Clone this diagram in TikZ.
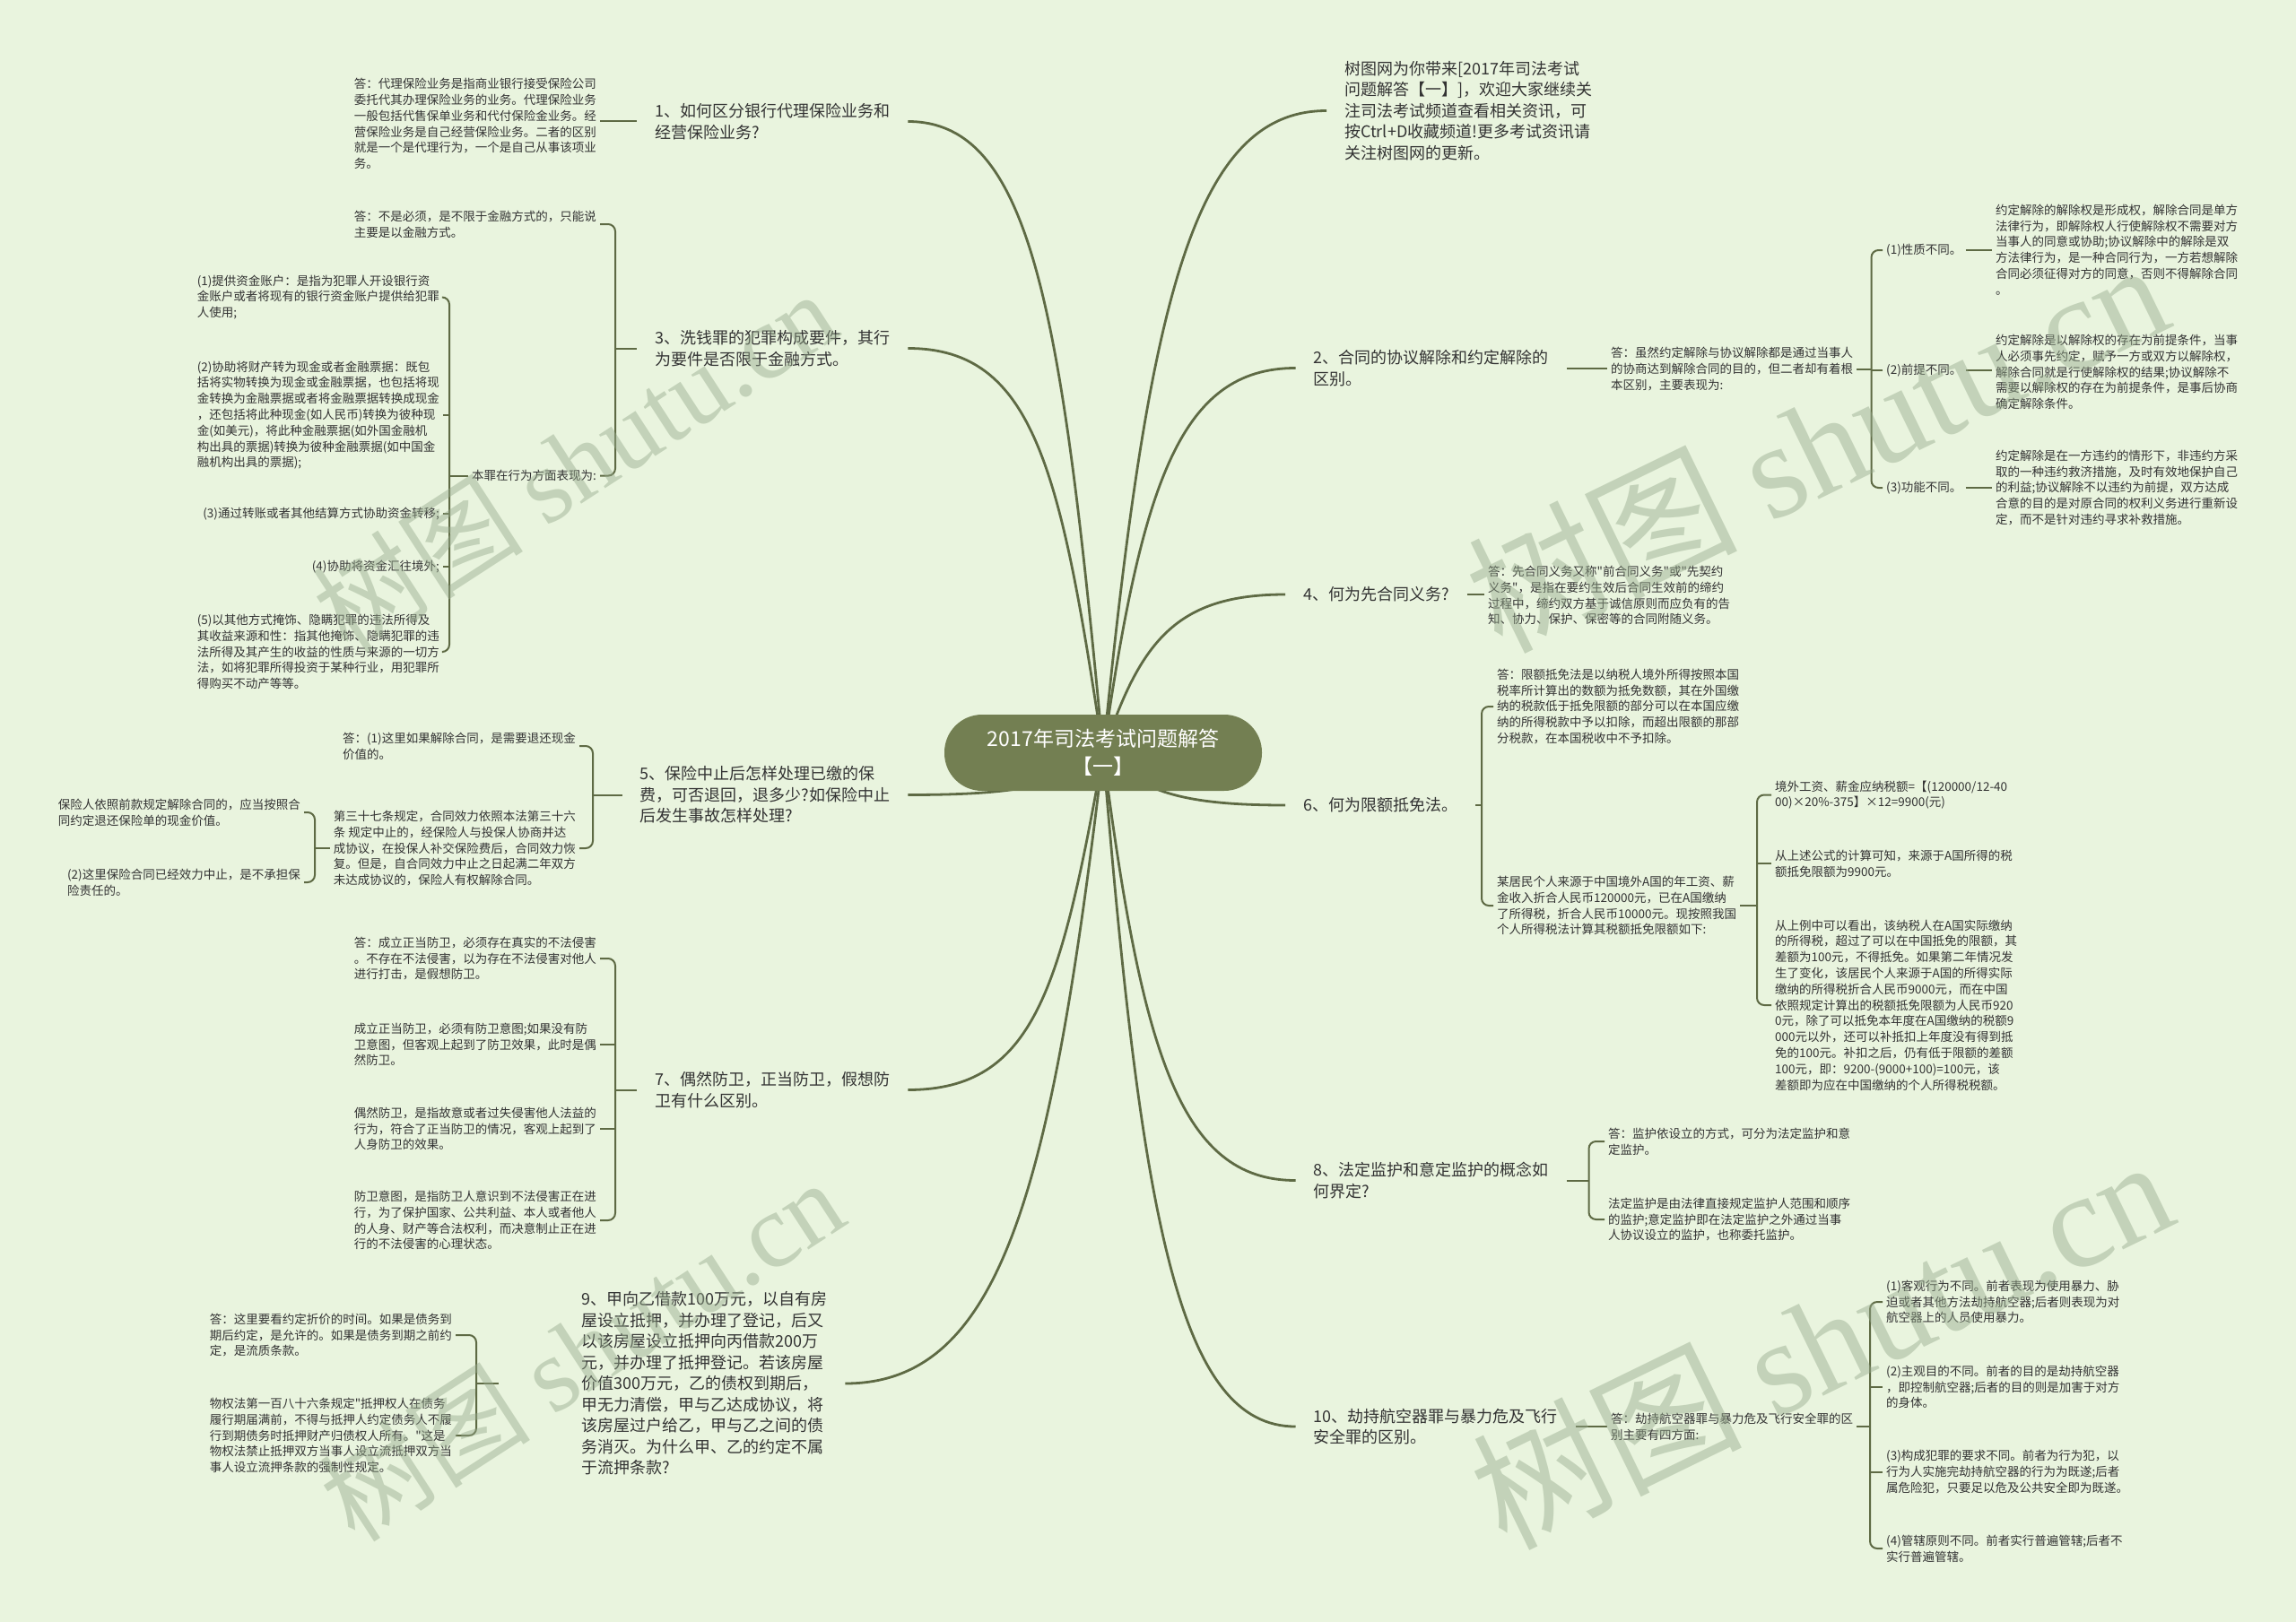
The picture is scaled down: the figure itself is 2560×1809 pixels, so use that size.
\documentclass[tikz,border=0pt]{standalone}
\usepackage{fontspec}
\setmainfont{Noto Sans CJK SC}[Ligatures=TeXOff]
\newfontfamily\wmserif{Liberation Serif}
\definecolor{bgleaf}{RGB}{233,244,222}
\definecolor{olive}{RGB}{94,106,68}
\definecolor{hubfill}{RGB}{115,127,82}
\definecolor{ink}{RGB}{51,51,51}
\definecolor{wmgray}{RGB}{150,170,140}

\begin{document}
\begin{tikzpicture}[
  x=1pt, y=1pt,
  topic/.style={align=left, text=ink, font=\fontsize{18}{23.5}\selectfont, inner xsep=20pt, inner ysep=2pt},
  leaf/.style={align=left, text=ink, font=\fontsize{13.5}{17.8}\selectfont, inner sep=4pt},
  hubbox/.style={fill=hubfill, text=white, rounded corners=42pt, minimum width=354pt, minimum height=85pt, align=center, font=\fontsize{23}{31}\selectfont},
  branch/.style={draw=olive, line width=2.8pt},
  brace/.style={draw=olive, line width=2pt, rounded corners=8pt},
  wmark/.style={text=wmgray, opacity=0.45, rotate=33, font=\fontsize{118}{118}\selectfont},
  wmarkwide/.style={text=wmgray, opacity=0.45, rotate=26, font=\fontsize{150}{150}\selectfont}
]
\path[use as bounding box, fill=bgleaf] (0,0) rectangle (2560,-1809);
\coordinate (hub) at (1230,-839.5);

% left topics
\node[topic, anchor=west] (L1) at (710,-135.5) {1、如何区分银行代理保险业务和\\经营保险业务?};
\node[topic, anchor=west] (L3) at (710,-388.5) {3、洗钱罪的犯罪构成要件，其行\\为要件是否限于金融方式。};
\node[topic, anchor=west] (L5) at (693.5,-886.5) {5、保险中止后怎样处理已缴的保\\费，可否退回，退多少?如保险中止\\后发生事故怎样处理?};
\node[topic, anchor=west] (L7) at (710,-1215.5) {7、偶然防卫，正当防卫，假想防\\卫有什么区别。};
\node[topic, anchor=west] (L9) at (628,-1543) {9、甲向乙借款100万元，以自有房\\屋设立抵押，并办理了登记，后又\\以该房屋设立抵押向丙借款200万\\元，并办理了抵押登记。若该房屋\\价值300万元，乙的债权到期后，\\甲无力清偿，甲与乙达成协议，将\\该房屋过户给乙，甲与乙之间的债\\务消灭。为什么甲、乙的约定不属\\于流押条款?};

% right topics
\node[topic, anchor=west] (T) at (1479,-123.5) {树图网为你带来[2017年司法考试\\问题解答【一】]，欢迎大家继续关\\注司法考试频道查看相关资讯，可\\按Ctrl+D收藏频道!更多考试资讯请\\关注树图网的更新。};
\node[topic, anchor=west] (L2) at (1444.5,-410.5) {2、合同的协议解除和约定解除的\\区别。};
\node[topic, anchor=west] (L4) at (1433,-663) {4、何为先合同义务?};
\node[topic, anchor=west] (L6) at (1433,-898) {6、何为限额抵免法。};
\node[topic, anchor=west] (L8) at (1444.5,-1316.5) {8、法定监护和意定监护的概念如\\何界定?};
\node[topic, anchor=west] (L10) at (1444.5,-1591) {10、劫持航空器罪与暴力危及飞行\\安全罪的区别。};

% left leaves
\node[leaf, anchor=east] (C1) at (669,-138) {答：代理保险业务是指商业银行接受保险公司\\委托代其办理保险业务的业务。代理保险业务\\一般包括代售保单业务和代付保险金业务。经\\营保险业务是自己经营保险业务。二者的区别\\就是一个是代理行为，一个是自己从事该项业\\务。};
\node[leaf, anchor=east] (C3a) at (669,-250) {答：不是必须，是不限于金融方式的，只能说\\主要是以金融方式。};
\node[leaf, anchor=east] (C3b) at (669,-530.6) {本罪在行为方面表现为:};
\node[leaf, anchor=east] (C3b1) at (494,-331.5) {(1)提供资金账户：是指为犯罪人开设银行资\\金账户或者将现有的银行资金账户提供给犯罪\\人使用;};
\node[leaf, anchor=east] (C3b2) at (494,-463) {(2)协助将财产转为现金或者金融票据：既包\\括将实物转换为现金或金融票据，也包括将现\\金转换为金融票据或者将金融票据转换成现金\\，还包括将此种现金(如人民币)转换为彼种现\\金(如美元)，将此种金融票据(如外国金融机\\构出具的票据)转换为彼种金融票据(如中国金\\融机构出具的票据);};
\node[leaf, anchor=east] (C3b3) at (494,-573) {(3)通过转账或者其他结算方式协助资金转移;};
\node[leaf, anchor=east] (C3b4) at (494,-632) {(4)协助将资金汇往境外;};
\node[leaf, anchor=east] (C3b5) at (494,-727) {(5)以其他方式掩饰、隐瞒犯罪的违法所得及\\其收益来源和性：指其他掩饰、隐瞒犯罪的违\\法所得及其产生的收益的性质与来源的一切方\\法，如将犯罪所得投资于某种行业，用犯罪所\\得购买不动产等等。};
\node[leaf, anchor=east] (C5a) at (646,-832) {答：(1)这里如果解除合同，是需要退还现金\\价值的。};
\node[leaf, anchor=east] (C5b) at (646,-946) {第三十七条规定，合同效力依照本法第三十六\\条 规定中止的，经保险人与投保人协商并达\\成协议，在投保人补交保险费后，合同效力恢\\复。但是，自合同效力中止之日起满二年双方\\未达成协议的，保险人有权解除合同。};
\node[leaf, anchor=east] (C5b1) at (339,-906) {保险人依照前款规定解除合同的，应当按照合\\同约定退还保险单的现金价值。};
\node[leaf, anchor=east] (C5b2) at (339,-984) {(2)这里保险合同已经效力中止，是不承担保\\险责任的。};
\node[leaf, anchor=east] (C7a) at (669,-1069) {答：成立正当防卫，必须存在真实的不法侵害\\。不存在不法侵害，以为存在不法侵害对他人\\进行打击，是假想防卫。};
\node[leaf, anchor=east] (C7b) at (669,-1165) {成立正当防卫，必须有防卫意图;如果没有防\\卫意图，但客观上起到了防卫效果，此时是偶\\然防卫。};
\node[leaf, anchor=east] (C7c) at (669,-1259) {偶然防卫，是指故意或者过失侵害他人法益的\\行为，符合了正当防卫的情况，客观上起到了\\人身防卫的效果。};
\node[leaf, anchor=east] (C7d) at (669,-1361) {防卫意图，是指防卫人意识到不法侵害正在进\\行，为了保护国家、公共利益、本人或者他人\\的人身、财产等合法权利，而决意制止正在进\\行的不法侵害的心理状态。};
\node[leaf, anchor=east] (C9a) at (508,-1489) {答：这里要看约定折价的时间。如果是债务到\\期后约定，是允许的。如果是债务到期之前约\\定，是流质条款。};
\node[leaf, anchor=east] (C9b) at (508,-1601) {物权法第一百八十六条规定"抵押权人在债务\\履行期届满前，不得与抵押人约定债务人不履\\行到期债务时抵押财产归债权人所有。"这是\\物权法禁止抵押双方当事人设立流抵押双方当\\事人设立流押条款的强制性规定。};

% right leaves
\node[leaf, anchor=west] (C2) at (1792,-411.5) {答：虽然约定解除与协议解除都是通过当事人\\的协商达到解除合同的目的，但二者却有着根\\本区别，主要表现为:};
\node[leaf, anchor=west] (C2a) at (2099,-279) {(1)性质不同。};
\node[leaf, anchor=west] (C2b) at (2099,-413) {(2)前提不同。};
\node[leaf, anchor=west] (C2c) at (2099,-544) {(3)功能不同。};
\node[leaf, anchor=west] (D2a) at (2221,-278.5) {约定解除的解除权是形成权，解除合同是单方\\法律行为，即解除权人行使解除权不需要对方\\当事人的同意或协助;协议解除中的解除是双\\方法律行为，是一种合同行为，一方若想解除\\合同必须征得对方的同意，否则不得解除合同\\。};
\node[leaf, anchor=west] (D2b) at (2221,-415) {约定解除是以解除权的存在为前提条件，当事\\人必须事先约定，赋予一方或双方以解除权，\\解除合同就是行使解除权的结果;协议解除不\\需要以解除权的存在为前提条件，是事后协商\\确定解除条件。};
\node[leaf, anchor=west] (D2c) at (2221,-544) {约定解除是在一方违约的情形下，非违约方采\\取的一种违约救济措施，及时有效地保护自己\\的利益;协议解除不以违约为前提，双方达成\\合意的目的是对原合同的权利义务进行重新设\\定，而不是针对违约寻求补救措施。};
\node[leaf, anchor=west] (C4) at (1655,-664) {答：先合同义务又称"前合同义务"或"先契约\\义务"，是指在要约生效后合同生效前的缔约\\过程中，缔约双方基于诚信原则而应负有的告\\知、协力、保护、保密等的合同附随义务。};
\node[leaf, anchor=west] (C6a) at (1665,-788) {答：限额抵免法是以纳税人境外所得按照本国\\税率所计算出的数额为抵免数额，其在外国缴\\纳的税款低于抵免限额的部分可以在本国应缴\\纳的所得税款中予以扣除，而超出限额的那部\\分税款，在本国税收中不予扣除。};
\node[leaf, anchor=west] (C6b) at (1665,-1010) {某居民个人来源于中国境外A国的年工资、薪\\金收入折合人民币120000元，已在A国缴纳\\了所得税，折合人民币10000元。现按照我国\\个人所得税法计算其税额抵免限额如下:};
\node[leaf, anchor=west] (C6b1) at (1975,-886.5) {境外工资、薪金应纳税额=【(120000/12-40\\00)×20\%-375】×12=9900(元)};
\node[leaf, anchor=west] (C6b2) at (1975,-963) {从上述公式的计算可知，来源于A国所得的税\\额抵免限额为9900元。};
\node[leaf, anchor=west] (C6b3) at (1975,-1121) {从上例中可以看出，该纳税人在A国实际缴纳\\的所得税，超过了可以在中国抵免的限额，其\\差额为100元，不得抵免。如果第二年情况发\\生了变化，该居民个人来源于A国的所得实际\\缴纳的所得税折合人民币9000元，而在中国\\依照规定计算出的税额抵免限额为人民币920\\0元，除了可以抵免本年度在A国缴纳的税额9\\000元以外，还可以补抵扣上年度没有得到抵\\免的100元。补扣之后，仍有低于限额的差额\\100元，即：9200-(9000+100)=100元，该\\差额即为应在中国缴纳的个人所得税税额。};
\node[leaf, anchor=west] (C8a) at (1789,-1273) {答：监护依设立的方式，可分为法定监护和意\\定监护。};
\node[leaf, anchor=west] (C8b) at (1789,-1360) {法定监护是由法律直接规定监护人范围和顺序\\的监护;意定监护即在法定监护之外通过当事\\人协议设立的监护，也称委托监护。};
\node[leaf, anchor=west] (C10) at (1792,-1591) {答：劫持航空器罪与暴力危及飞行安全罪的区\\别主要有四方面:};
\node[leaf, anchor=west] (C10a) at (2099,-1452) {(1)客观行为不同。前者表现为使用暴力、胁\\迫或者其他方法劫持航空器;后者则表现为对\\航空器上的人员使用暴力。};
\node[leaf, anchor=west] (C10b) at (2099,-1547) {(2)主观目的不同。前者的目的是劫持航空器\\，即控制航空器;后者的目的则是加害于对方\\的身体。};
\node[leaf, anchor=west] (C10c) at (2099,-1641.5) {(3)构成犯罪的要求不同。前者为行为犯，以\\行为人实施完劫持航空器的行为为既遂;后者\\属危险犯，只要足以危及公共安全即为既遂。};
\node[leaf, anchor=west] (C10d) at (2099,-1727) {(4)管辖原则不同。前者实行普遍管辖;后者不\\实行普遍管辖。};

% bracket columns
\coordinate (k3) at (686,0);
\coordinate (k3b) at (501,0);
\coordinate (k5) at (661,0);
\coordinate (k5b) at (351,0);
\coordinate (k7) at (686,0);
\coordinate (k9) at (531,0);
\coordinate (k9t) at (556,0);
\coordinate (k2) at (2086.5,0);
\coordinate (k6) at (1652,0);
\coordinate (k6b) at (1959,0);
\coordinate (k8) at (1771.5,0);
\coordinate (k10) at (2085,0);

% main branches
\draw[branch] (hub) .. controls +(-46,493) and +(138,0) .. (L1.east);
\draw[branch] (hub) .. controls +(-47,315) and +(141,0) .. (L3.east);
\draw[branch] (hub) .. controls +(-47,-33) and +(141,0) .. (L5.east);
\draw[branch] (hub) .. controls +(-47,-263) and +(141,0) .. (L7.east);
\draw[branch] (hub) .. controls +(-58,-492) and +(173,0) .. (L9.east);
\draw[branch] (hub) .. controls +(50,501) and +(-149,0) .. (T.west);
\draw[branch] (hub) .. controls +(43,300) and +(-129,0) .. (L2.west);
\draw[branch] (hub) .. controls +(41,124) and +(-122,0) .. (L4.west);
\draw[branch] (hub) .. controls +(41,-41) and +(-122,0) .. (L6.west);
\draw[branch] (hub) .. controls +(43,-334) and +(-129,0) .. (L8.west);
\draw[branch] (hub) .. controls +(43,-526) and +(-129,0) .. (L10.west);

\node[hubbox] (root) at (hub) {2017年司法考试问题解答\\【一】};

% left side connectors
\draw[brace] (L1.west) -- (L1.west -| C1.east);
\draw[brace] (L3.west) -- (L3.west -| k3);
\draw[brace] (C3a.east) -- (C3a.east -| k3) -- (C3b.east -| k3) -- (C3b.east);
\draw[brace] (C3b.west) -- (C3b.west -| k3b);
\draw[brace] (C3b1.east) -- (C3b1.east -| k3b) -- (C3b5.east -| k3b) -- (C3b5.east);
\draw[brace] (C3b2.east) -- (C3b2.east -| k3b);
\draw[brace] (C3b3.east) -- (C3b3.east -| k3b);
\draw[brace] (C3b4.east) -- (C3b4.east -| k3b);
\draw[brace] (L5.west) -- (L5.west -| k5);
\draw[brace] (C5a.east) -- (C5a.east -| k5) -- (C5b.east -| k5) -- (C5b.east);
\draw[brace] (C5b.west) -- (C5b.west -| k5b);
\draw[brace] (C5b1.east) -- (C5b1.east -| k5b) -- (C5b2.east -| k5b) -- (C5b2.east);
\draw[brace] (L7.west) -- (L7.west -| k7);
\draw[brace] (C7a.east) -- (C7a.east -| k7) -- (C7d.east -| k7) -- (C7d.east);
\draw[brace] (C7b.east) -- (C7b.east -| k7);
\draw[brace] (C7c.east) -- (C7c.east -| k7);
\draw[brace] (L9.west -| k9t) -- (L9.west -| k9);
\draw[brace] (C9a.east) -- (C9a.east -| k9) -- (C9b.east -| k9) -- (C9b.east);

% right side connectors
\draw[brace] (L2.east) -- (L2.east -| C2.west);
\draw[brace] (C2.east) -- (C2.east -| k2);
\draw[brace] (C2a.west) -- (C2a.west -| k2) -- (C2c.west -| k2) -- (C2c.west);
\draw[brace] (C2b.west) -- (C2b.west -| k2);
\draw[brace] (C2a.east) -- (C2a.east -| D2a.west);
\draw[brace] (C2b.east) -- (C2b.east -| D2b.west);
\draw[brace] (C2c.east) -- (C2c.east -| D2c.west);
\draw[brace] (L4.east) -- (L4.east -| C4.west);
\draw[brace] (L6.east) -- (L6.east -| k6);
\draw[brace] (C6a.west) -- (C6a.west -| k6) -- (C6b.west -| k6) -- (C6b.west);
\draw[brace] (C6b.east) -- (C6b.east -| k6b);
\draw[brace] (C6b1.west) -- (C6b1.west -| k6b) -- (C6b3.west -| k6b) -- (C6b3.west);
\draw[brace] (C6b2.west) -- (C6b2.west -| k6b);
\draw[brace] (L8.east) -- (L8.east -| k8);
\draw[brace] (C8a.west) -- (C8a.west -| k8) -- (C8b.west -| k8) -- (C8b.west);
\draw[brace] (L10.east) -- (L10.east -| C10.west);
\draw[brace] (C10.east) -- (C10.east -| k10);
\draw[brace] (C10a.west) -- (C10a.west -| k10) -- (C10d.west -| k10) -- (C10d.west);
\draw[brace] (C10b.west) -- (C10b.west -| k10);
\draw[brace] (C10c.west) -- (C10c.west -| k10);

% watermarks
\node[wmark] (wm1) at (640,-514) {树图 {\wmserif shutu.cn}};
\node[wmark] (wm2) at (648,-1505) {树图 {\wmserif shutu.cn}};
\node[wmarkwide] (wm3) at (2025,-495) {树图 {\wmserif shutu.cn}};
\node[wmarkwide] (wm4) at (2030,-1495) {树图 {\wmserif shutu.cn}};
\end{tikzpicture}
\end{document}
